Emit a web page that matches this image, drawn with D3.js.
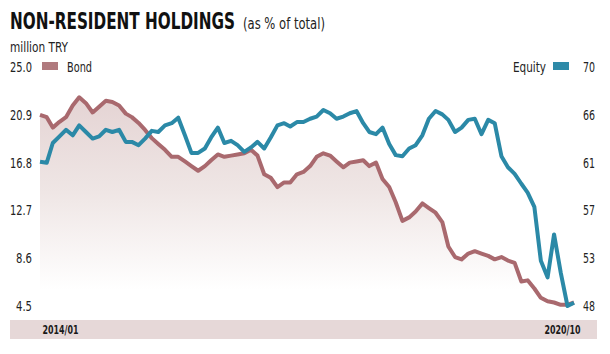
<!DOCTYPE html>
<html>
<head>
<meta charset="utf-8">
<script src="https://cdn.jsdelivr.net/npm/d3@7"></script>
<style>
  body { margin: 0; background: #fff; }
  svg { display: block; }
  text { font-family: "DejaVu Sans Condensed", "Liberation Sans Narrow", sans-serif; }
</style>
</head>
<body>
<svg id="chart" width="610" height="354"></svg>
<script>
// Data ------------------------------------------
var startMonth = new Date(2014, 0, 1);
var endMonth = new Date(2020, 9, 1);

var bond = [20.9, 20.7, 19.8, 20.3, 20.7, 21.7, 22.4, 21.9, 21.1, 21.6,
            22.1, 22.0, 21.7, 21.0, 20.7, 20.2, 19.6, 18.9, 18.4, 17.9,
            17.3, 17.3, 16.9, 16.5, 16.1, 16.5, 17.0, 17.5, 17.3, 17.4,
            17.5, 17.6, 17.9, 17.4, 15.8, 15.5, 14.7, 15.1, 15.1, 15.8,
            16.0, 16.5, 17.3, 17.6, 17.4, 16.9, 16.4, 16.8, 16.9, 17.0,
            16.5, 16.8, 15.4, 14.7, 13.4, 11.8, 12.1, 12.6, 13.3, 12.9,
            12.5, 11.7, 9.6, 8.7, 8.5, 9.0, 9.2, 9.0, 8.8, 8.5,
            8.7, 8.4, 8.2, 6.6, 6.7, 6.0, 5.2, 4.9, 4.8, 4.6,
            4.6, 4.8];

var equity = [61.4, 61.3, 63.1, 63.7, 64.3, 63.8, 64.7, 64.1, 63.5, 63.7,
              64.3, 64.1, 64.3, 63.2, 63.2, 62.9, 63.5, 64.2, 64.1, 64.7,
              64.9, 65.4, 63.8, 62.2, 62.2, 62.6, 63.6, 64.5, 63.1, 63.3,
              62.9, 62.3, 62.7, 63.2, 62.6, 63.6, 64.7, 64.9, 64.6, 65.0,
              65.0, 65.3, 65.5, 66.1, 65.8, 65.3, 65.5, 65.8, 66.0, 64.9,
              64.1, 63.9, 64.5, 63.0, 62.0, 61.9, 62.6, 62.9, 63.8, 65.3,
              66.0, 65.7, 65.2, 64.1, 64.5, 65.2, 65.3, 63.9, 65.2, 64.9,
              61.9, 60.9, 60.3, 59.4, 58.6, 57.3, 52.4, 50.9, 54.8, 51.3,
              48.3, 48.6];

var leftTicks = [4.5, 8.6, 12.7, 16.8, 20.9, 25.0];
var rightTicks = [48.3, 52.64, 56.98, 61.32, 65.66, 70];

var months = d3.timeMonth.range(startMonth, d3.timeMonth.offset(endMonth, 1));

// Layout ----------------------------------------
var svg = d3.select("#chart");
var top_ = 67, bottom = 306, left = 40, right = 574;

var x = d3.scaleTime().domain([startMonth, endMonth]).range([left, right]);
var yL = d3.scaleLinear().domain([4.5, 25]).range([bottom, top_]);
var yR = d3.scaleLinear().domain([48.3, 70]).range([bottom, top_]);

var bondColor = "#a9696e";
var equityColor = "#2b89a7";

// narrow a text horizontally to width w (mimics the condensed face of the original)
function squeeze(sel, w) {
  sel.each(function() {
    var len = this.getComputedTextLength();
    var s = len > 0 ? w / len : 1;
    var t = d3.select(this);
    var tx = +t.attr("x") || 0, ty = +t.attr("y") || 0;
    t.attr("x", 0).attr("y", 0)
     .attr("transform", "translate(" + tx + "," + ty + ") scale(" + s + ",1)");
  });
}

// Titles
svg.append("text")
    .attr("x", 10).attr("y", 29)
    .attr("font-size", 23).attr("font-weight", "bold").attr("fill", "#111")
    .text("NON-RESIDENT HOLDINGS")
    .call(squeeze, 225);
svg.append("text")
    .attr("x", 243).attr("y", 29)
    .attr("font-size", 16).attr("fill", "#222")
    .text("(as % of total)")
    .call(squeeze, 82);

svg.append("text")
    .attr("x", 10).attr("y", 52)
    .attr("font-size", 14).attr("fill", "#222")
    .text("million TRY")
    .call(squeeze, 58);

// Gradient fill under bond
var defs = svg.append("defs");
var grad = defs.append("linearGradient")
    .attr("id", "bondFill")
    .attr("gradientUnits", "userSpaceOnUse")
    .attr("x1", 0).attr("x2", 0).attr("y1", 95).attr("y2", 290);
grad.append("stop").attr("offset", 0).attr("stop-color", "#e4d3d3");
grad.append("stop").attr("offset", 0.5).attr("stop-color", "#efe6e5");
grad.append("stop").attr("offset", 1).attr("stop-color", "#ffffff");

var area = d3.area()
    .x(function(d, i) { return x(months[i]); })
    .y0(bottom)
    .y1(function(d) { return yL(d); });

svg.append("path")
    .datum(bond)
    .attr("d", area)
    .attr("fill", "url(#bondFill)");

// Bottom band
svg.append("rect")
    .attr("x", 10).attr("y", 320)
    .attr("width", 587).attr("height", 19)
    .attr("fill", "#e6d8d8");

// Axes ------------------------------------------
var axL = svg.append("g")
    .attr("transform", "translate(32,0)")
    .call(d3.axisLeft(yL).tickValues(leftTicks).tickFormat(d3.format(".1f")).tickSize(0));
axL.select(".domain").remove();
axL.selectAll("text")
    .attr("font-size", 14).attr("fill", "#222")
    .attr("x", 0)
    .each(function() {
      var t = d3.select(this);
      squeeze(t, t.text().length > 3 ? 22 : 16);
    });

var axR = svg.append("g")
    .attr("transform", "translate(583,0)")
    .call(d3.axisRight(yR).tickValues(rightTicks).tickFormat(d3.format(".0f")).tickSize(0));
axR.select(".domain").remove();
axR.selectAll("text")
    .attr("font-size", 14).attr("fill", "#222")
    .attr("x", 0)
    .call(squeeze, 12);

var axB = svg.append("g")
    .attr("transform", "translate(0,320)")
    .call(d3.axisBottom(x).tickValues([startMonth, endMonth]).tickFormat(d3.timeFormat("%Y/%m")).tickSize(0));
axB.select(".domain").remove();
axB.selectAll("text")
    .attr("font-size", 13).attr("fill", "#1a1a1a")
    .attr("y", 14).attr("dy", null)
    .style("font-weight", "bold")
    .attr("text-anchor", function(d, i) { return i === 0 ? "start" : "end"; })
    .attr("x", function(d, i) { return i === 0 ? 2 : 6; })
    .call(squeeze, 36);

// Legend
svg.append("rect").attr("x", 42).attr("y", 62).attr("width", 16).attr("height", 8).attr("fill", "#b07a7e");
svg.append("text").attr("x", 67).attr("y", 72).attr("font-size", 14).attr("fill", "#222")
    .text("Bond").call(squeeze, 25);
svg.append("rect").attr("x", 553).attr("y", 62).attr("width", 16).attr("height", 8).attr("fill", "#2e8aa8");
svg.append("text").attr("x", 546).attr("y", 72).attr("font-size", 14).attr("fill", "#222")
    .attr("text-anchor", "end").text("Equity").call(squeeze, 33);

// Lines -----------------------------------------
var lineL = d3.line()
    .x(function(d, i) { return x(months[i]); })
    .y(function(d) { return yL(d); });
var lineR = d3.line()
    .x(function(d, i) { return x(months[i]); })
    .y(function(d) { return yR(d); });

svg.append("path")
    .datum(bond)
    .attr("d", lineL)
    .attr("fill", "none")
    .attr("stroke", bondColor)
    .attr("stroke-width", 4)
    .attr("stroke-linejoin", "round");

svg.append("path")
    .datum(equity)
    .attr("d", lineR)
    .attr("fill", "none")
    .attr("stroke", equityColor)
    .attr("stroke-width", 4)
    .attr("stroke-linejoin", "round");
</script>
</body>
</html>
